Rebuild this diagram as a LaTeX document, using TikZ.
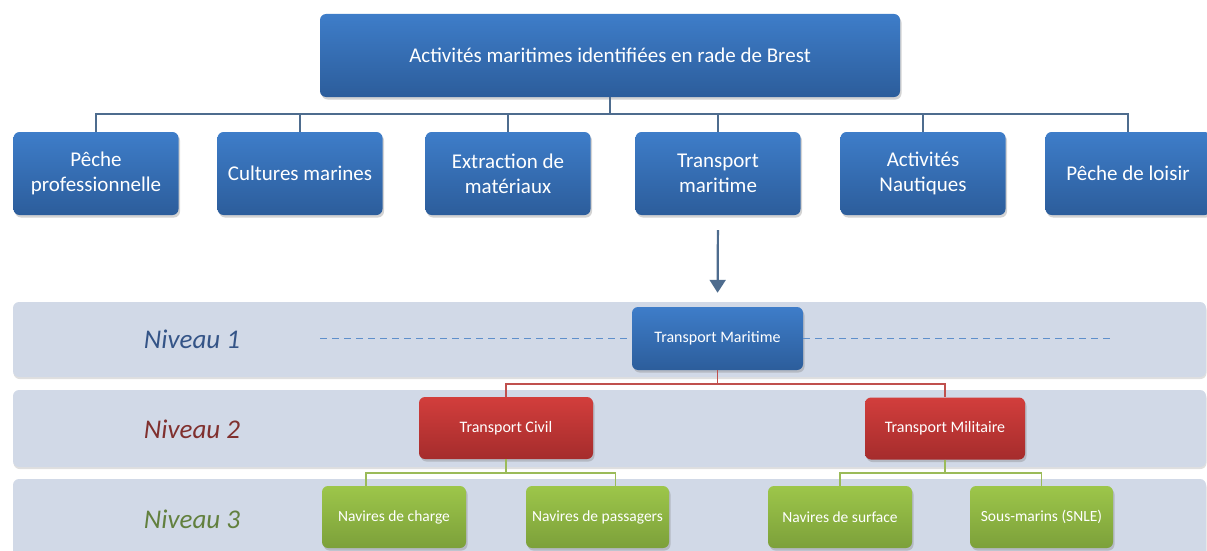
\documentclass[tikz,border=0pt]{standalone}
\usepackage{fontspec}
\setmainfont{Carlito}
\usetikzlibrary{positioning,arrows.meta,shadows}
\definecolor{blueTop}{RGB}{62,125,201}
\definecolor{blueBot}{RGB}{44,93,155}
\definecolor{redTop}{RGB}{210,62,60}
\definecolor{redBot}{RGB}{165,44,44}
\definecolor{greenTop}{RGB}{157,198,74}
\definecolor{greenBot}{RGB}{124,160,58}
\definecolor{bandfill}{RGB}{209,217,231}
\definecolor{treeline}{RGB}{78,108,142}
\definecolor{redline}{RGB}{192,80,77}
\definecolor{greenline}{RGB}{155,187,89}
\definecolor{dashblue}{RGB}{94,143,203}
\definecolor{niv1}{RGB}{52,84,135}
\definecolor{niv2}{RGB}{128,48,46}
\definecolor{niv3}{RGB}{98,128,62}

\begin{document}
\begin{tikzpicture}[x=1pt,y=-1pt,
  box/.style={rounded corners=6pt,text=white,align=center,inner sep=0pt,
    drop shadow={opacity=0.35,shadow xshift=1.5pt,shadow yshift=-2.5pt}},
  topbox/.style={box,top color=blueTop,bottom color=blueBot,minimum width=580pt,minimum height=83pt,font=\fontsize{21}{25}\selectfont},
  catbox/.style={box,top color=blueTop,bottom color=blueBot,minimum width=165pt,minimum height=83pt,font=\fontsize{21}{25}\selectfont},
  lvlblue/.style={box,top color=blueTop,bottom color=blueBot,minimum height=63pt,font=\fontsize{16}{19}\selectfont},
  lvlred/.style={box,top color=redTop,bottom color=redBot,minimum height=62pt,font=\fontsize{16}{19}\selectfont},
  lvlgreen/.style={box,top color=greenTop,bottom color=greenBot,minimum height=62pt,font=\fontsize{15.5}{18}\selectfont},
  band/.style={fill=bandfill,rounded corners=6pt,
    drop shadow={opacity=0.25,shadow xshift=0.5pt,shadow yshift=-2pt}},
  niv/.style={font=\fontsize{27}{30}\selectfont\itshape},
  tree/.style={draw=treeline,line width=1.8pt},
  redcon/.style={draw=redline,line width=1.6pt},
  greencon/.style={draw=greenline,line width=1.6pt},
  dashln/.style={draw=dashblue,line width=1.7pt,dash pattern=on 7pt off 5pt},
  flow/.style={draw=treeline,line width=2.2pt,-{Triangle[length=13pt,width=16pt]}}
]
\useasboundingbox (0,0) rectangle (1207,551);

% level bands
\fill[band] (13,302) rectangle (1206,377);
\fill[band] (13,390) rectangle (1206,467);
\fill[band] (13,479) rectangle (1206,575);
\node[niv,text=niv1] (niv1) at (192,339) {Niveau 1};
\node[niv,text=niv2] (niv2) at (192,429) {Niveau 2};
\node[niv,text=niv3] (niv3) at (192,519) {Niveau 3};

% activities
\node[topbox] (root) at (610,55.5) {Activités maritimes identifiées en rade de Brest};
\node[catbox] (peche) at (96,173.5) {Pêche\\professionnelle};
\node[catbox] (cult) at (300,173.5) {Cultures marines};
\node[catbox] (extr) at (508,173.5) {Extraction de\\matériaux};
\node[catbox] (trans) at (718,173.5) {Transport\\maritime};
\node[catbox] (naut) at (923,173.5) {Activités\\Nautiques};
\node[catbox] (loisir) at (1128,173.5) {Pêche de loisir};
\foreach \c in {peche,cult,extr,trans,naut,loisir}
  \draw[tree] (root.south) -- ++(0,17) -| (\c.north);

% transport hierarchy
\node[lvlblue,minimum width=171pt] (tmar) at (717.5,338.5) {Transport Maritime};
\node[lvlred,minimum width=174pt] (tciv) at (506,428) {Transport Civil};
\node[lvlred,minimum width=160pt] (tmil) at (945,428.5) {Transport Militaire};
\node[lvlgreen,minimum width=144pt] (ncharge) at (394,517) {Navires de charge};
\node[lvlgreen,minimum width=143pt] (npass) at (597.5,517) {Navires de passagers};
\node[lvlgreen,minimum width=144pt] (nsurf) at (840,517) {Navires de surface};
\node[lvlgreen,minimum width=143pt] (snle) at (1041.5,517) {Sous-marins (SNLE)};

\coordinate (dl) at (320,338.5);
\coordinate (dr) at (1112,338.5);
\draw[dashln] (dl) -- (tmar.west);
\draw[dashln] (tmar.east) -- (dr);

\draw[flow,shorten <=15pt,shorten >=14pt] (trans.south) -- (tmar.north);
\draw[redcon] (tmar.south) -- ++(0,14) -| (tciv.north);
\draw[redcon] (tmar.south) -- ++(0,14) -| (tmil.north);
\draw[greencon] (tciv.south) -- ++(0,14) -| ([xshift=-28pt]ncharge.north);
\draw[greencon] (tciv.south) -- ++(0,14) -| ([xshift=18pt]npass.north);
\draw[greencon] (tmil.south) -- ++(0,13) -| (nsurf.north);
\draw[greencon] (tmil.south) -- ++(0,13) -| (snle.north);
\end{tikzpicture}
\end{document}
